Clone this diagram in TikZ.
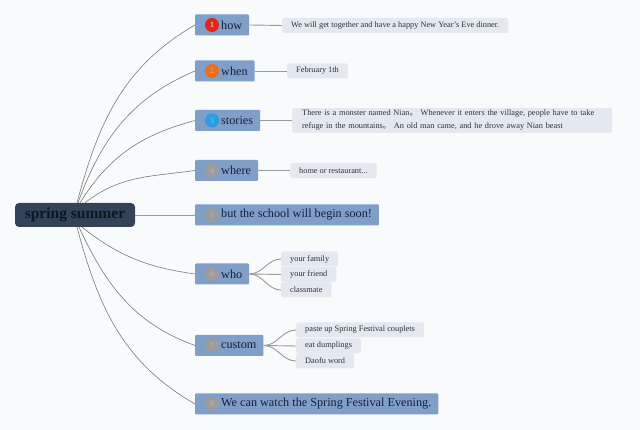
\documentclass[tikz,border=0pt]{standalone}
\usepackage{fontspec}
\setmainfont{Liberation Serif}
\newfontfamily\cjk{Noto Sans CJK SC}
\usepackage{tikz}

\definecolor{paper}{HTML}{F9FAFC}
\definecolor{rootnavy}{HTML}{34435A}
\definecolor{roottext}{HTML}{0E1622}
\definecolor{topicblue}{HTML}{7F9FC9}
\definecolor{topictext}{HTML}{16203A}
\definecolor{leafgray}{HTML}{E4E8EF}
\definecolor{leaftext}{HTML}{2E3339}
\definecolor{trunkgray}{HTML}{7A7A7A}
\definecolor{twiggray}{HTML}{9A9A9A}
\definecolor{badgered}{HTML}{E0261B}
\definecolor{badgeorange}{HTML}{EA6F1A}
\definecolor{badgeblue}{HTML}{2A9DE0}
\definecolor{badgegray}{HTML}{9C9C9C}

\tikzset{
    rootbox/.style={fill=rootnavy, rounded corners=4pt, minimum width=120pt,
        minimum height=24pt, inner sep=0pt, text=roottext,
        font=\fontsize{15.5}{18}\selectfont\bfseries},
    topic/.style={fill=topicblue, rounded corners=1pt, minimum height=21pt,
        inner xsep=7pt, inner ysep=2pt, anchor=west, text=topictext,
        font=\fontsize{12.2}{14}\selectfont,
        execute at begin node={\hspace*{19pt}}},
    leaf/.style={fill=leafgray, rounded corners=2pt, minimum height=15pt,
        inner xsep=9pt, inner ysep=2pt, anchor=west, text=leaftext,
        font=\fontsize{8.3}{13}\selectfont},
    badge/.style={circle, inner sep=0pt, minimum size=14pt,
        font=\fontsize{8}{8}\selectfont},
    trunk/.style={draw=trunkgray, line width=0.6pt},
    twig/.style={draw=twiggray, line width=0.9pt},
}

\begin{document}
\begin{tikzpicture}[x=1pt, y=1pt]
\fill[paper] (0,0) rectangle (640,430);
\useasboundingbox (0,0) rectangle (640,430);

% centre
\node[rootbox] (root) at (75,215) {spring summer};

% topics
\node[topic] (how) at (195,405) {how};
\node[topic] (when) at (195,359) {when};
\node[topic] (stories) at (195,309.5) {stories};
\node[topic] (where) at (195,259.5) {where};
\node[topic] (school) at (195,215) {but the school will begin soon!};
\node[topic] (who) at (195,156) {who};
\node[topic] (custom) at (195,84.5) {custom};
\node[topic] (watch) at (195,26) {We can watch the Spring Festival Evening.};

% badges
\node[badge, fill=badgered, text=white] (b1) at ([xshift=17pt]how.west) {1};
\node[badge, fill=badgeorange, text=badgeorange!60!white] (b2) at ([xshift=17pt]when.west) {2};
\node[badge, fill=badgeblue, text=badgeblue!60!white] (b3) at ([xshift=17pt]stories.west) {3};
\node[badge, fill=badgegray, text=badgegray!70!white] (b4) at ([xshift=17pt]where.west) {4};
\node[badge, fill=badgegray, text=badgegray!70!white] (b5) at ([xshift=17pt]school.west) {5};
\node[badge, fill=badgegray, text=badgegray!70!white] (b6) at ([xshift=17pt]who.west) {6};
\node[badge, fill=badgegray, text=badgegray!70!white] (b7) at ([xshift=17pt]custom.west) {7};
\node[badge, fill=badgegray, text=badgegray!70!white] (b8) at ([xshift=17pt]watch.west) {8};

% leaves
\node[leaf] (dinner) at (282,404.5) {We will get together and have a happy New Year's Eve dinner.};
\node[leaf] (date) at (287,359) {February 1th};
\node[leaf, text width=300pt, align=left, inner xsep=10pt] (nian) at (292,309.5)
    {There is a monster named Nian{\cjk 。} Whenever it enters the village, people have to take\\
     refuge in the mountains{\cjk 。} An old man came, and he drove away Nian beast};
\node[leaf] (place) at (290,259.5) {home or restaurant...};
\node[leaf] (family) at (281,171) {your family};
\node[leaf] (friend) at (281,155.5) {your friend};
\node[leaf] (mate) at (281,140) {classmate};
\node[leaf] (couplets) at (296,100) {paste up Spring Festival couplets};
\node[leaf] (dumplings) at (296,84) {eat dumplings};
\node[leaf] (daofu) at (296,69) {Daofu word};

% centre to topics
\draw[trunk] ([xshift=2pt]root.north) to[out=75, in=210] (how.west);
\draw[trunk] ([xshift=3pt]root.north) to[out=70, in=203] (when.west);
\draw[trunk] ([xshift=5pt]root.north) to[out=58, in=195] (stories.west);
\draw[trunk] ([xshift=10pt]root.north) to[out=38, in=188] (where.west);
\draw[twig] (root.east) -- (school.west);
\draw[trunk] ([xshift=7pt]root.south) to[out=-38, in=172] (who.west);
\draw[trunk] ([xshift=4pt]root.south) to[out=-65, in=160] (custom.west);
\draw[trunk] ([xshift=2pt]root.south) to[out=-75, in=150] (watch.west);

% topics to leaves
\draw[twig] (how.east) -- (dinner.west);
\draw[twig] (when.east) -- (date.west);
\draw[twig] (stories.east) -- (nian.west);
\draw[twig] (where.east) -- (place.west);
\draw[twig] (who.east) to[out=0, in=180] (family.west);
\draw[twig] (who.east) -- (friend.west);
\draw[twig] (who.east) to[out=0, in=180] (mate.west);
\draw[twig] (custom.east) to[out=0, in=180] (couplets.west);
\draw[twig] (custom.east) -- (dumplings.west);
\draw[twig] (custom.east) to[out=0, in=180] (daofu.west);
\end{tikzpicture}
\end{document}
